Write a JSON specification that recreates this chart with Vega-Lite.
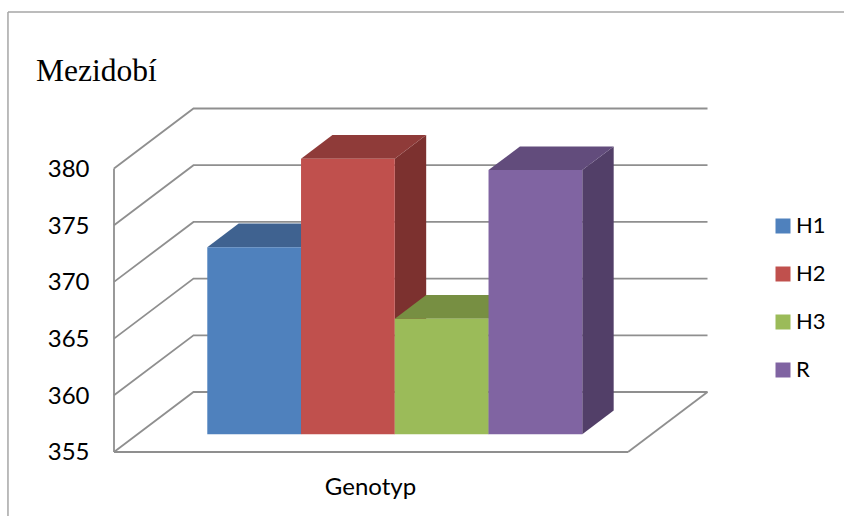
{
  "$schema": "https://vega.github.io/schema/vega-lite/v6.json",
  "width": 844,
  "height": 516,
  "padding": 0,
  "autosize": {"type": "none"},
  "background": "white",
  "config": {"view": {"stroke": null}},
  "title": {
    "text": "Mezidobí",
    "anchor": "start",
    "frame": "group",
    "font": "Liberation Serif",
    "fontSize": 31.5,
    "fontWeight": "normal",
    "color": "#000000",
    "baseline": "alphabetic",
    "offset": 0,
    "dx": 36,
    "dy": 112
  },
  "datasets": {
    "bars": [
      {"genotyp": "H1", "value": 371.5},
      {"genotyp": "H2", "value": 379.3},
      {"genotyp": "H3", "value": 365.2},
      {"genotyp": "R", "value": 378.3}
    ],
    "levels": [
      {"level": 355},
      {"level": 360},
      {"level": 365},
      {"level": 370},
      {"level": 375},
      {"level": 380}
    ]
  },
  "resolve": {"scale": {"color": "independent"}, "axis": {"x": "independent", "y": "independent"}},
  "layer": [
    {
      "description": "Chart frame, top edge",
      "data": {"values": [{}]},
      "mark": {"type": "rule", "color": "#a6a6a6", "strokeWidth": 1.5},
      "encoding": {
        "x": {"datum": -1.131, "type": "quantitative", "scale": {"domain": [-1.216, 7.787], "range": [0, 844], "nice": false, "zero": false}, "axis": null},
        "x2": {"datum": 7.787},
        "y": {"datum": 393.8, "type": "quantitative", "scale": {"domain": [349.356, 394.86], "range": [516, 0], "nice": false, "zero": false}, "axis": null}
      }
    },
    {
      "description": "Chart frame, left edge",
      "data": {"values": [{}]},
      "mark": {"type": "rule", "color": "#a6a6a6", "strokeWidth": 1.5},
      "encoding": {
        "x": {"datum": -1.131, "type": "quantitative", "scale": {"domain": [-1.216, 7.787], "range": [0, 844], "nice": false, "zero": false}, "axis": null},
        "y": {"datum": 393.8, "type": "quantitative", "scale": {"domain": [349.356, 394.86], "range": [516, 0], "nice": false, "zero": false}, "axis": null},
        "y2": {"datum": 349.356}
      }
    },
    {
      "description": "Gridlines running along the side wall and back wall",
      "data": {"name": "levels"},
      "transform": [
        {"calculate": "[0, 1, 2]", "as": "node"},
        {"flatten": ["node"]},
        {"calculate": "datum.node === 0 ? 0 : datum.node === 1 ? 0.848 : 6.331", "as": "px"},
        {"calculate": "datum.level + (datum.node === 0 ? 0 : 5.29)", "as": "py"}
      ],
      "mark": {"type": "line", "color": "#8f8f8f", "strokeWidth": 1.8, "interpolate": "linear"},
      "encoding": {
        "x": {
          "field": "px", "type": "quantitative",
          "scale": {"domain": [-1.216, 7.787], "range": [0, 844], "nice": false, "zero": false},
          "axis": {"title": "Genotyp", "titleFont": "Lato", "titleFontSize": 24, "titleFontWeight": "normal", "titleColor": "#000000", "titleX": 370, "titleY": -22, "titleAlign": "center", "titleBaseline": "alphabetic", "labels": false, "ticks": false, "domain": false, "grid": false}
        },
        "y": {
          "field": "py", "type": "quantitative",
          "scale": {"domain": [349.356, 394.86], "range": [516, 0], "nice": false, "zero": false},
          "axis": {"values": [355, 360, 365, 370, 375, 380], "format": "d", "title": null, "grid": false, "domain": false, "ticks": false, "offset": -89, "labelPadding": 0, "labelOffset": 1, "labelFont": "Lato", "labelFontSize": 24, "labelColor": "#000000"}
        },
        "detail": {"field": "level"},
        "order": {"field": "node"}
      }
    },
    {
      "description": "Front vertical edge of the side wall",
      "data": {"values": [{}]},
      "mark": {"type": "rule", "color": "#8f8f8f", "strokeWidth": 1.8},
      "encoding": {
        "x": {"datum": 0, "type": "quantitative", "scale": {"domain": [-1.216, 7.787], "range": [0, 844], "nice": false, "zero": false}, "axis": null},
        "y": {"datum": 355, "type": "quantitative", "scale": {"domain": [349.356, 394.86], "range": [516, 0], "nice": false, "zero": false}, "axis": null},
        "y2": {"datum": 380}
      }
    },
    {
      "description": "Floor, front edge",
      "data": {"values": [{}]},
      "mark": {"type": "rule", "color": "#8f8f8f", "strokeWidth": 1.8},
      "encoding": {
        "x": {"datum": 0, "type": "quantitative", "scale": {"domain": [-1.216, 7.787], "range": [0, 844], "nice": false, "zero": false}, "axis": null},
        "x2": {"datum": 5.483},
        "y": {"datum": 355, "type": "quantitative", "scale": {"domain": [349.356, 394.86], "range": [516, 0], "nice": false, "zero": false}, "axis": null}
      }
    },
    {
      "description": "Floor, right edge",
      "data": {"values": [{}]},
      "mark": {"type": "rule", "color": "#8f8f8f", "strokeWidth": 1.8},
      "encoding": {
        "x": {"datum": 5.483, "type": "quantitative", "scale": {"domain": [-1.216, 7.787], "range": [0, 844], "nice": false, "zero": false}, "axis": null},
        "x2": {"datum": 6.331},
        "y": {"datum": 355, "type": "quantitative", "scale": {"domain": [349.356, 394.86], "range": [516, 0], "nice": false, "zero": false}, "axis": null},
        "y2": {"datum": 360.29}
      }
    },
    {
      "description": "Right-hand faces of the bars",
      "data": {"name": "bars"},
      "transform": [
        {"calculate": "[0.295, 0.69]", "as": "depth"},
        {"flatten": ["depth"]},
        {"calculate": "indexof(['H1','H2','H3','R'], datum.genotyp) + 1.745 + datum.depth * 0.848", "as": "px"},
        {"calculate": "datum.value + datum.depth * 5.29", "as": "top"},
        {"calculate": "355 + datum.depth * 5.29", "as": "base"}
      ],
      "mark": {"type": "area", "orient": "vertical", "interpolate": "linear"},
      "encoding": {
        "x": {"field": "px", "type": "quantitative", "scale": {"domain": [-1.216, 7.787], "range": [0, 844], "nice": false, "zero": false}, "axis": null},
        "y": {"field": "top", "type": "quantitative", "scale": {"domain": [349.356, 394.86], "range": [516, 0], "nice": false, "zero": false}, "axis": null},
        "y2": {"field": "base"},
        "color": {"field": "genotyp", "type": "nominal", "scale": {"domain": ["H1", "H2", "H3", "R"], "range": ["#395f8c", "#7c312f", "#5f7530", "#523f68"]}, "legend": null}
      }
    },
    {
      "description": "Top faces of the bars",
      "data": {"name": "bars"},
      "transform": [
        {"calculate": "[0.295, 0.69]", "as": "depth"},
        {"flatten": ["depth"]},
        {"calculate": "indexof(['H1','H2','H3','R'], datum.genotyp) + 0.745 + datum.depth * 0.848", "as": "left"},
        {"calculate": "datum.left + 1", "as": "right"},
        {"calculate": "datum.value + datum.depth * 5.29", "as": "top"}
      ],
      "mark": {"type": "area", "orient": "horizontal", "interpolate": "linear"},
      "encoding": {
        "x": {"field": "left", "type": "quantitative", "scale": {"domain": [-1.216, 7.787], "range": [0, 844], "nice": false, "zero": false}, "axis": null},
        "x2": {"field": "right"},
        "y": {"field": "top", "type": "quantitative", "scale": {"domain": [349.356, 394.86], "range": [516, 0], "nice": false, "zero": false}, "axis": null},
        "color": {"field": "genotyp", "type": "nominal", "scale": {"domain": ["H1", "H2", "H3", "R"], "range": ["#3f6290", "#8f3b39", "#778f42", "#624c7c"]}, "legend": null}
      }
    },
    {
      "description": "Front faces of the bars, which also carry the legend",
      "data": {"name": "bars"},
      "transform": [
        {"calculate": "indexof(['H1','H2','H3','R'], datum.genotyp) + 0.745 + 0.295 * 0.848", "as": "left"},
        {"calculate": "datum.left + 1", "as": "right"},
        {"calculate": "datum.value + 0.295 * 5.29", "as": "top"},
        {"calculate": "355 + 0.295 * 5.29", "as": "base"}
      ],
      "mark": {"type": "rect"},
      "encoding": {
        "x": {"field": "left", "type": "quantitative", "scale": {"domain": [-1.216, 7.787], "range": [0, 844], "nice": false, "zero": false}, "axis": null},
        "x2": {"field": "right"},
        "y": {"field": "top", "type": "quantitative", "scale": {"domain": [349.356, 394.86], "range": [516, 0], "nice": false, "zero": false}, "axis": null},
        "y2": {"field": "base"},
        "color": {
          "field": "genotyp", "type": "nominal",
          "scale": {"domain": ["H1", "H2", "H3", "R"], "range": ["#4f81bd", "#c0504d", "#9bbb59", "#8064a2"]},
          "legend": {"title": null, "orient": "none", "legendX": 772, "legendY": 215, "padding": 0, "symbolType": "square", "symbolSize": 225, "symbolStrokeWidth": 0, "labelFont": "Lato", "labelFontSize": 22, "labelColor": "#000000", "labelOffset": 2, "rowPadding": 26, "symbolOpacity": 1}
        }
      }
    }
  ]
}
